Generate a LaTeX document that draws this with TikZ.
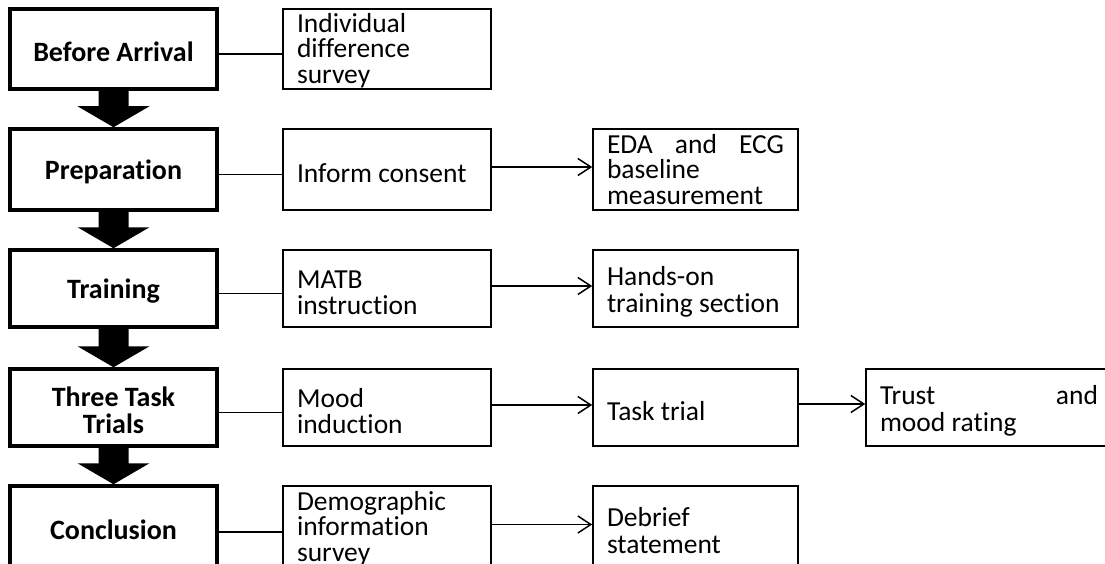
\documentclass[tikz,border=0pt]{standalone}
\usepackage{fontspec}
\setmainfont{Carlito}[Ligatures={NoCommon}]
\usetikzlibrary{arrows.meta,calc}
\begin{document}
\begin{tikzpicture}[x=1pt,y=-1pt,
  stage/.style={draw, line width=3.5pt, minimum width=207pt, inner sep=0pt,
    text width=180pt, text height=25pt, align=flush center,
    font=\fontsize{28}{27}\selectfont\bfseries},
  item/.style={draw, line width=1.6pt, inner xsep=14pt, inner ysep=0pt,
    text height=26pt, align=flush left, font=\fontsize{27.5}{26.5}\selectfont},
  three/.style={text height=22pt, font=\fontsize{27.5}{25.5}\selectfont},
  colA/.style={item, text width=180pt},
  colB/.style={item, text width=177pt},
  colC/.style={item, text width=218pt},
  link/.style={line width=1.5pt},
  flow/.style={line width=1.5pt, -{Straight Barb[length=13pt,width=17pt]}},
  bigarrow/.style={fill=black}]
\useasboundingbox (0,0) rectangle (1105,564);

% stages
\node[stage, minimum height=80pt] (L1) at (113.5,49) {Before Arrival};
\node[stage, minimum height=81pt] (L2) at (113.5,169.5) {Preparation};
\node[stage, minimum height=77pt] (L3) at (113.5,288.5) {Training};
\node[stage, minimum height=77pt] (L4) at (113.5,407.5) {Three Task\\Trials};
\node[stage, minimum height=82pt] (L5) at (113.5,527) {Conclusion};

% first column of activities
\node[colA, three, minimum height=80pt] (A1) at (387,49) {Individual\\difference\\survey};
\node[colA, minimum height=81pt] (A2) at (387,169.5) {Inform consent};
\node[colA, minimum height=77pt] (A3) at (387,288.5) {MATB\\instruction};
\node[colA, minimum height=77pt] (A4) at (387,407.5) {Mood\\induction};
\node[colA, three, minimum height=82pt] (A5) at (387,527) {Demographic\\information\\survey};

% second column
\node[colB, three, text height=19pt, minimum height=81pt] (B2) at (695.5,169.5) {EDA\hfill and\hfill ECG\\baseline\\measurement};
\node[colB, minimum height=77pt] (B3) at (695.5,288.5) {Hands-on\\training section};
\node[colB, minimum height=77pt] (B4) at (695.5,407.5) {Task trial};
\node[colB, minimum height=82pt] (B5) at (695.5,527) {Debrief\\statement};

% third column
\node[colC, minimum height=77pt] (C4) at (989,407.5) {Trust\hfill and\\mood rating};

% block arrows between stages
\foreach \a/\b in {L1/L2, L2/L3, L3/L4, L4/L5}
  \fill[bigarrow] ($(\a.south)+(-15,0)$) -- ($(\b.north)+(-15,-21)$)
    -- ($(\b.north)+(-36,-21)$) -- (\b.north) -- ($(\b.north)+(36,-21)$)
    -- ($(\b.north)+(15,-21)$) -- ($(\a.south)+(15,0)$) -- cycle;

% stage to first activity
\foreach \n in {1,...,5}
  \draw[link] ([yshift=-5pt]L\n.east) -- ([yshift=-5pt]A\n.west);

% activity sequence
\foreach \n in {2,...,5}
  \draw[flow] ([yshift=2.5pt]A\n.east) -- ([yshift=2.5pt]B\n.west);
\draw[flow] ([yshift=3.5pt]B4.east) -- ([yshift=3.5pt]C4.west);
\end{tikzpicture}
\end{document}
